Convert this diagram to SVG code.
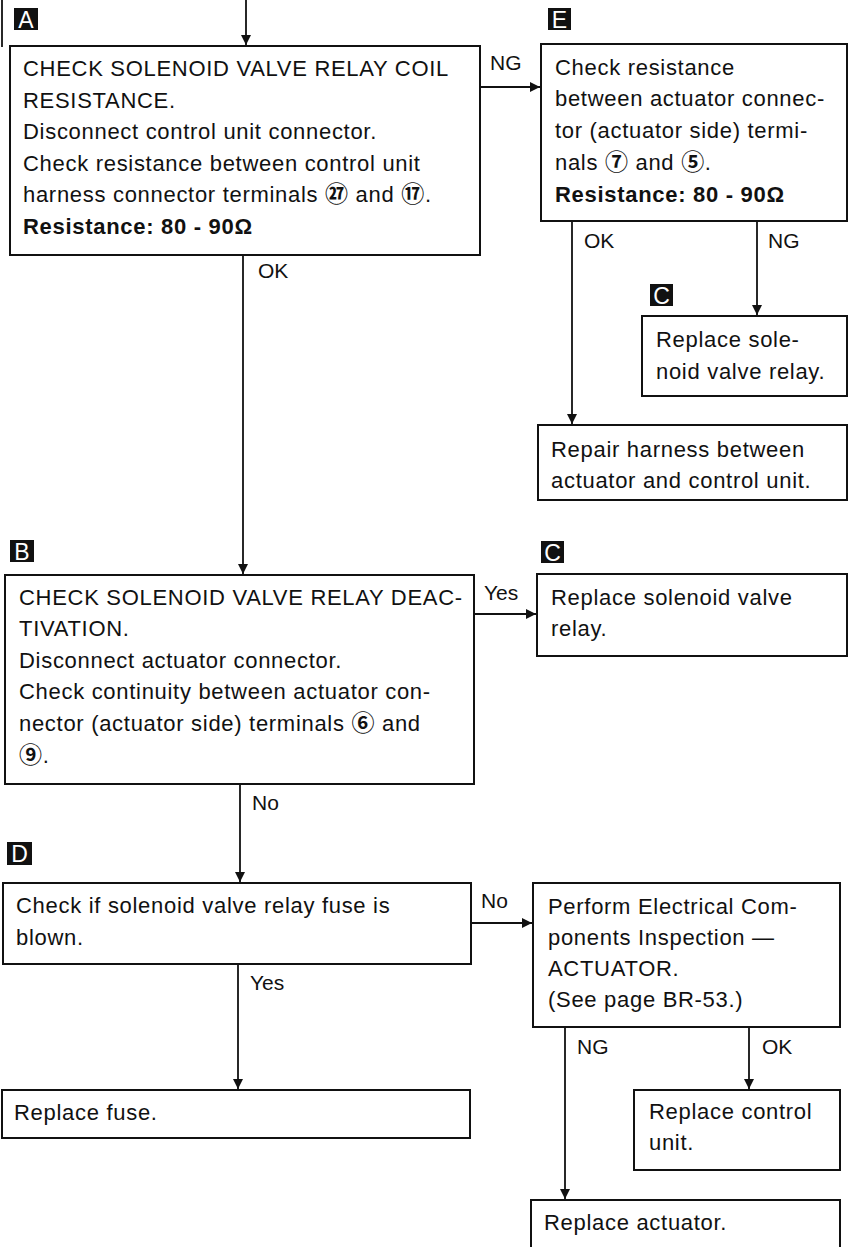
<svg xmlns="http://www.w3.org/2000/svg" width="849" height="1247" viewBox="0 0 849 1247">
<style>
.box{fill:#fff;stroke:#111;stroke-width:2}
.t{font-family:"Liberation Sans","DejaVu Sans","Noto Sans CJK JP",sans-serif;font-size:22px;letter-spacing:0.7px;fill:#111}
.b{font-weight:bold}
.n{font-family:"Noto Sans CJK JP","DejaVu Sans",sans-serif;font-size:23px;font-weight:bold}
.lbl{font-family:"Liberation Sans","DejaVu Sans",sans-serif;font-size:21px;fill:#111}
.tag{fill:#111}
.tagt{font-family:"Liberation Sans","DejaVu Sans",sans-serif;font-size:23px;fill:#fff;text-anchor:middle}
.c{stroke:#111;stroke-width:1.8;fill:none}
</style>
<defs>
<marker id="arr" viewBox="0 0 10 10" refX="10" refY="5" markerWidth="14" markerHeight="10" markerUnits="userSpaceOnUse" orient="auto">
<path d="M0,0 L10,5 L0,10 Z" fill="#111"/>
</marker>
</defs>
<rect width="849" height="1247" fill="#fff"/>

<g id="connectors">
<line class="c" x1="2" y1="0" x2="2" y2="47"/>
<line class="c" x1="246" y1="0" x2="246" y2="45" marker-end="url(#arr)"/>
<line class="c" x1="480" y1="87" x2="540" y2="87" marker-end="url(#arr)"/>
<text class="lbl" x="490" y="70">NG</text>
<line class="c" x1="243" y1="255" x2="243" y2="574" marker-end="url(#arr)"/>
<text class="lbl" x="258" y="278">OK</text>
<line class="c" x1="572" y1="221" x2="572" y2="424" marker-end="url(#arr)"/>
<text class="lbl" x="584" y="248">OK</text>
<line class="c" x1="757" y1="221" x2="757" y2="315" marker-end="url(#arr)"/>
<text class="lbl" x="768" y="248">NG</text>
<line class="c" x1="474" y1="614" x2="536" y2="614" marker-end="url(#arr)"/>
<text class="lbl" x="484" y="600">Yes</text>
<line class="c" x1="240" y1="784" x2="240" y2="882" marker-end="url(#arr)"/>
<text class="lbl" x="252" y="810">No</text>
<line class="c" x1="471" y1="923" x2="532" y2="923" marker-end="url(#arr)"/>
<text class="lbl" x="481" y="908">No</text>
<line class="c" x1="238" y1="964" x2="238" y2="1089" marker-end="url(#arr)"/>
<text class="lbl" x="250" y="990">Yes</text>
<line class="c" x1="565" y1="1027" x2="565" y2="1199" marker-end="url(#arr)"/>
<text class="lbl" x="577" y="1054">NG</text>
<line class="c" x1="749" y1="1027" x2="749" y2="1089" marker-end="url(#arr)"/>
<text class="lbl" x="762" y="1054">OK</text>
</g>

<g id="nodeA">
<rect class="tag" x="14" y="8" width="24" height="22"/>
<text class="tagt" x="26" y="27.5">A</text>
<rect class="box" x="10" y="46" width="470" height="209"/>
<text class="t" x="23" y="76">CHECK SOLENOID VALVE RELAY COIL</text>
<text class="t" x="23" y="108">RESISTANCE.</text>
<text class="t" x="23" y="139">Disconnect control unit connector.</text>
<text class="t" x="23" y="171">Check resistance between control unit</text>
<text class="t" x="23" y="202">harness connector terminals <tspan class="n">㉗</tspan> and <tspan class="n">⑰</tspan>.</text>
<text class="t b" x="23" y="234">Resistance: 80 - 90Ω</text>
</g>

<g id="nodeE">
<rect class="tag" x="548" y="8" width="23" height="22"/>
<text class="tagt" x="559.5" y="27.5">E</text>
<rect class="box" x="541" y="44" width="306" height="177"/>
<text class="t" x="555" y="75">Check resistance</text>
<text class="t" x="555" y="106">between actuator connec-</text>
<text class="t" x="555" y="138">tor (actuator side) termi-</text>
<text class="t" x="555" y="170">nals <tspan class="n">⑦</tspan> and <tspan class="n">⑤</tspan>.</text>
<text class="t b" x="555" y="202">Resistance: 80 - 90Ω</text>
</g>

<g id="nodeC1">
<rect class="tag" x="650" y="284" width="23" height="22"/>
<text class="tagt" x="661.5" y="303.5">C</text>
<rect class="box" x="642" y="316" width="205" height="80"/>
<text class="t" x="656" y="347">Replace sole-</text>
<text class="t" x="656" y="379">noid valve relay.</text>
</g>

<g id="nodeRepair">
<rect class="box" x="538" y="425" width="309" height="75"/>
<text class="t" x="551" y="457">Repair harness between</text>
<text class="t" x="551" y="488">actuator and control unit.</text>
</g>

<g id="nodeB">
<rect class="tag" x="10" y="540" width="24" height="22"/>
<text class="tagt" x="22" y="559.5">B</text>
<rect class="box" x="5" y="575" width="469" height="209"/>
<text class="t" x="19" y="605">CHECK SOLENOID VALVE RELAY DEAC-</text>
<text class="t" x="19" y="636">TIVATION.</text>
<text class="t" x="19" y="668">Disconnect actuator connector.</text>
<text class="t" x="19" y="699">Check continuity between actuator con-</text>
<text class="t" x="19" y="731">nector (actuator side) terminals <tspan class="n">⑥</tspan> and</text>
<text class="t" x="19" y="763"><tspan class="n">⑨</tspan>.</text>
</g>

<g id="nodeC2">
<rect class="tag" x="541" y="541" width="23" height="22"/>
<text class="tagt" x="552.5" y="560.5">C</text>
<rect class="box" x="537" y="574" width="310" height="82"/>
<text class="t" x="551" y="605">Replace solenoid valve</text>
<text class="t" x="551" y="636">relay.</text>
</g>

<g id="nodeD">
<rect class="tag" x="7" y="842" width="25" height="23"/>
<text class="tagt" x="19.5" y="862">D</text>
<rect class="box" x="3" y="883" width="468" height="81"/>
<text class="t" x="16" y="913">Check if solenoid valve relay fuse is</text>
<text class="t" x="16" y="945">blown.</text>
</g>

<g id="nodeFuse">
<rect class="box" x="2" y="1090" width="468" height="48"/>
<text class="t" x="14" y="1120">Replace fuse.</text>
</g>

<g id="nodePerform">
<rect class="box" x="533" y="883" width="307" height="144"/>
<text class="t" x="548" y="914">Perform Electrical Com-</text>
<text class="t" x="548" y="945">ponents Inspection —</text>
<text class="t" x="548" y="976">ACTUATOR.</text>
<text class="t" x="548" y="1007">(See page BR-53.)</text>
</g>

<g id="nodeControl">
<rect class="box" x="634" y="1090" width="206" height="80"/>
<text class="t" x="649" y="1119">Replace control</text>
<text class="t" x="649" y="1150">unit.</text>
</g>

<g id="nodeActuator">
<rect class="box" x="531" y="1200" width="309" height="60"/>
<text class="t" x="544" y="1230">Replace actuator.</text>
</g>
</svg>
